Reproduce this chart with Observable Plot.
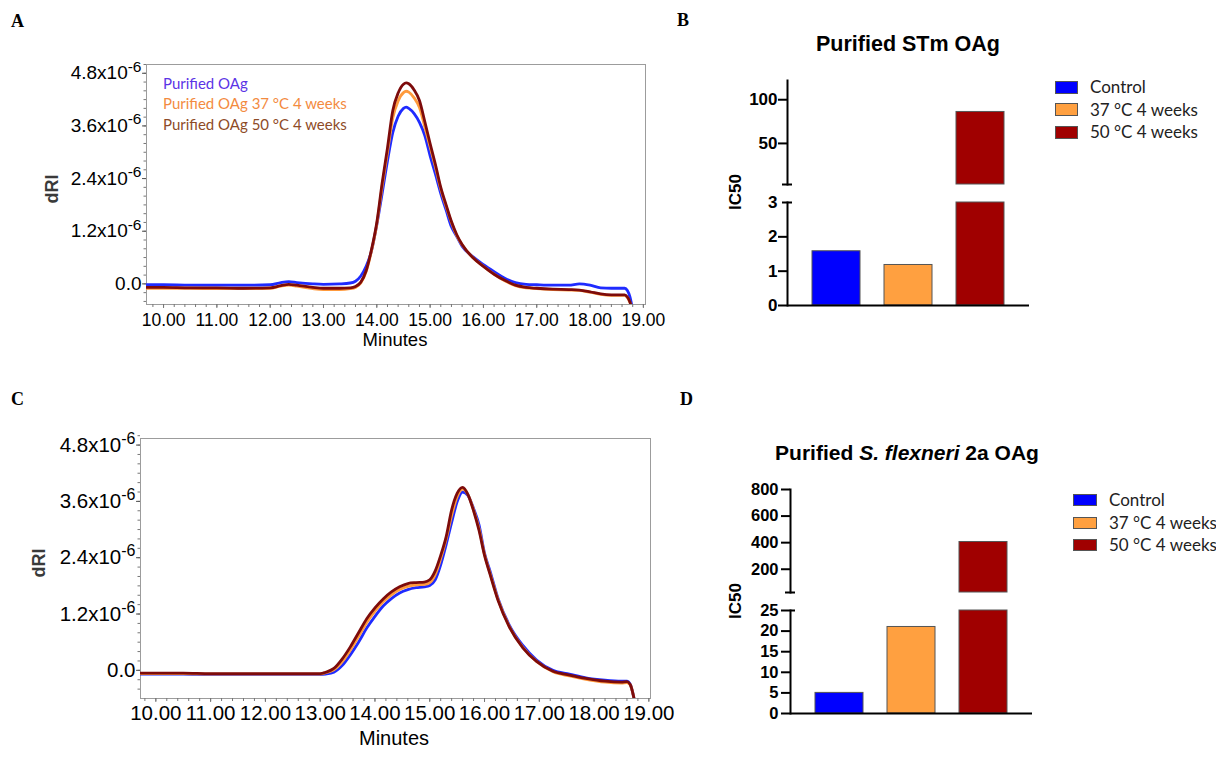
<!DOCTYPE html>
<html><head><meta charset="utf-8">
<script src="https://cdn.jsdelivr.net/npm/d3@7"></script>
<script src="https://cdn.jsdelivr.net/npm/@observablehq/plot@0.6"></script>
<style>
html,body{margin:0;padding:0;background:#fff;}
#root{position:relative;width:1216px;height:758px;overflow:hidden;background:#fff;font-family:"Liberation Sans",Arial,sans-serif;color:#000;}
.abs{position:absolute;white-space:nowrap;}
.plab{font-family:"Liberation Serif","Times New Roman",serif;font-weight:bold;font-size:18px;line-height:18px;}
.sw{position:absolute;box-sizing:border-box;border:1px solid #555;}
svg{overflow:visible;}
</style></head><body><div id="root"></div>
<script>
// ---------- DATA ----------
// Panel A: chromatogram, Purified STm OAg (dRI in units of 1e-6)
const tA = [9.68,10.0,10.5,11.0,11.5,12.0,12.2,12.35,12.5,12.8,13.0,13.3,13.5,13.6,13.7,13.8,13.9,14.0,14.1,14.2,14.3,14.4,14.5,14.55,14.6,14.7,14.8,14.9,15.0,15.1,15.2,15.3,15.4,15.5,15.6,15.8,16.0,16.2,16.4,16.6,16.8,17.0,17.3,17.6,17.8,18.0,18.2,18.4,18.65,18.7,18.75,18.8];
const blueA = [-0.02,-0.02,-0.03,-0.03,-0.03,-0.02,0.03,0.05,0.03,0.0,-0.01,0.0,0.02,0.06,0.18,0.4,0.75,1.35,2.06,2.8,3.45,3.82,4.0,4.03,4.0,3.88,3.68,3.38,2.92,2.5,2.06,1.68,1.3,1.08,0.86,0.62,0.44,0.28,0.13,0.03,-0.01,-0.02,-0.03,-0.03,0.0,-0.03,-0.09,-0.1,-0.1,-0.15,-0.3,-0.6];
const orangeA = [-0.1,-0.1,-0.1,-0.11,-0.11,-0.1,-0.05,-0.03,-0.05,-0.11,-0.13,-0.13,-0.11,-0.08,0.02,0.28,0.75,1.36,2.22,3.0,3.78,4.17,4.36,4.39,4.37,4.24,4.02,3.58,3.12,2.66,2.16,1.77,1.4,1.1,0.89,0.6,0.4,0.22,0.07,-0.04,-0.09,-0.11,-0.13,-0.14,-0.15,-0.19,-0.24,-0.26,-0.26,-0.31,-0.43,-0.65];
const brownA = [-0.08,-0.08,-0.09,-0.09,-0.1,-0.09,-0.04,-0.01,-0.03,-0.08,-0.1,-0.1,-0.09,-0.06,0.04,0.3,0.78,1.4,2.3,3.1,3.95,4.35,4.55,4.58,4.56,4.42,4.18,3.7,3.2,2.72,2.2,1.8,1.42,1.12,0.9,0.6,0.4,0.22,0.08,-0.03,-0.08,-0.1,-0.12,-0.13,-0.14,-0.18,-0.23,-0.25,-0.25,-0.3,-0.42,-0.65];

// Panel C: chromatogram, Purified S. flexneri 2a OAg (dRI in units of 1e-6)
const tC = [9.72,10.5,11.0,11.5,12.0,12.5,13.0,13.1,13.25,13.4,13.55,13.7,13.85,14.0,14.15,14.3,14.45,14.6,14.75,14.9,15.0,15.1,15.2,15.3,15.4,15.5,15.6,15.7,15.8,15.9,16.0,16.1,16.25,16.45,16.7,16.95,17.25,17.55,17.85,18.2,18.5,18.6,18.66,18.72,18.76];
const blueC = [-0.08,-0.08,-0.09,-0.09,-0.09,-0.09,-0.09,-0.08,-0.04,0.1,0.33,0.6,0.9,1.15,1.37,1.53,1.65,1.72,1.76,1.78,1.81,1.93,2.25,2.68,3.15,3.59,3.8,3.72,3.45,3.1,2.5,2.12,1.52,0.97,0.53,0.22,0.0,-0.08,-0.16,-0.21,-0.23,-0.23,-0.3,-0.55,-0.8];
const orangeC = [-0.07,-0.07,-0.08,-0.08,-0.08,-0.08,-0.08,-0.05,0.01,0.18,0.43,0.72,1.02,1.26,1.46,1.61,1.72,1.79,1.82,1.83,1.87,2.04,2.38,2.8,3.3,3.7,3.86,3.74,3.42,3.02,2.47,2.07,1.5,0.94,0.49,0.19,-0.03,-0.12,-0.19,-0.25,-0.27,-0.26,-0.31,-0.55,-0.8];
const brownC = [-0.06,-0.06,-0.07,-0.07,-0.07,-0.07,-0.07,-0.04,0.04,0.24,0.5,0.8,1.1,1.33,1.52,1.67,1.78,1.85,1.87,1.88,1.93,2.12,2.45,2.85,3.42,3.77,3.9,3.74,3.4,2.98,2.45,2.05,1.48,0.93,0.48,0.19,-0.02,-0.1,-0.17,-0.23,-0.25,-0.24,-0.3,-0.55,-0.8];

const chromSeries = ["Purified OAg", "Purified OAg 37 °C 4 weeks", "Purified OAg 50 °C 4 weeks"];
const lineColors = ["#1f2bff", "#ff9a3c", "#7d0b0b"];
const legendTextColors = ["#5b34e6", "#f38b3f", "#8e4b27"];
const minuteTicks = [10,11,12,13,14,15,16,17,18,19];
const dRITicks = [0, 1.2, 2.4, 3.6, 4.8]; // x10^-6

// Panels B and D: IC50 bar charts
const conditions = ["Control", "37 °C 4 weeks", "50 °C 4 weeks"];
const barColors = ["#0000ff", "#ffa040", "#a00000"];
const stmIC50 = [1.58, 1.18, 86];
const sfIC50 = [5.0, 21, 405];
const stmLowerTicks = [0, 1, 2, 3];
const stmUpperTicks = [50, 100];
const sfLowerTicks = [0, 5, 10, 15, 20, 25];
const sfUpperTicks = [200, 400, 600, 800];

// ---------- HELPERS ----------
const root = document.getElementById("root");
function place(node, left, top) {
  node.style.position = "absolute"; node.style.left = left + "px"; node.style.top = top + "px";
  root.appendChild(node); return node;
}
function text(txt, left, top, css) {
  const d = document.createElement("div"); d.className = "abs"; d.innerHTML = txt;
  Object.assign(d.style, css || {}); return place(d, left, top);
}
function supTicks(svg, supSize) {
  svg.querySelectorAll("text").forEach(t => {
    const m = (t.textContent || "").match(/^(.*x10)(-6)$/);
    if (m) {
      t.textContent = m[1];
      const ts = document.createElementNS("http://www.w3.org/2000/svg", "tspan");
      ts.setAttribute("dy", "-0.5em"); ts.setAttribute("font-size", supSize);
      ts.textContent = m[2]; t.appendChild(ts);
    }
  });
}
const fmtDRI = d => d === 0 ? "0.0" : d.toFixed(1) + "x10-6";
const minorX = d3.range(9.8, 19.01, 0.2);
const minorY = d3.range(-0.4, 5.01, 0.2);
const SANS = "'Liberation Sans', Arial, sans-serif";

function chrom(t, series, opt) {
  const svg = Plot.plot({
    width: opt.width, height: opt.height,
    marginLeft: opt.ml, marginRight: opt.mr, marginTop: opt.mt, marginBottom: opt.mb,
    style: {fontFamily: SANS, fontSize: opt.yfs + "px", color: "#000", background: "transparent", overflow: "visible"},
    x: {domain: opt.xd}, y: {domain: opt.yd},
    marks: [
      Plot.frame({stroke: "#9c9c9c"}),
      Plot.axisX({ticks: minorX, tickSize: 3, tickFormat: () => "", label: null, stroke: "#777"}),
      Plot.axisX({ticks: minuteTicks, tickSize: 4, tickPadding: opt.xpad, tickFormat: d => d.toFixed(2), label: null, stroke: "#777", fontSize: opt.xfs}),
      Plot.axisY({ticks: minorY, tickSize: 2.5, tickFormat: () => "", label: null, stroke: "#777"}),
      Plot.axisY({ticks: dRITicks, tickSize: 4, tickPadding: 1, tickFormat: fmtDRI, label: null, stroke: "#555"}),
      ...series.map((vals, k) => Plot.line(t, {x: d => d, y: (d, i) => vals[i], stroke: lineColors[k], strokeWidth: 2.8, curve: "monotone-x", clip: true}))
    ]
  });
  supTicks(svg, opt.supfs + "px");
  return svg;
}

// ---------- PANEL A ----------
place(chrom(tA, [blueA, orangeA, brownA], {width: 680, height: 370, ml: 146, mr: 35, mt: 64, mb: 66, xd: [9.68, 19.04], yd: [-0.47, 5.0], yfs: 19, supfs: 15.5, xfs: 17.5, xpad: 5}), 0, 0);
chromSeries.forEach((s, k) => text(s, 163, 76 + k * 20.3, {fontFamily: "Lato, 'Open Sans', sans-serif", fontSize: "15px", lineHeight: "15px", color: legendTextColors[k]}));
text("dRI", 52, 189, {fontWeight: "bold", fontSize: "18px", color: "#3a3a3a", transform: "translate(-50%,-50%) rotate(-90deg)"});
text("Minutes", 395, 331, {fontSize: "18.5px", lineHeight: "18.5px", transform: "translateX(-50%)"});

// ---------- PANEL C ----------
place(chrom(tC, [blueC, orangeC, brownC], {width: 690, height: 380, ml: 140, mr: 40, mt: 58, mb: 62, xd: [9.72, 19.03], yd: [-0.6, 4.94], yfs: 20.5, supfs: 16, xfs: 20.5, xpad: 3}), 0, 380);
text("dRI", 39, 563, {fontWeight: "bold", fontSize: "18px", color: "#3a3a3a", transform: "translate(-50%,-50%) rotate(-90deg)"});
text("Minutes", 394, 728, {fontSize: "20px", lineHeight: "20px", transform: "translateX(-50%)"});

// ---------- BROKEN-AXIS BAR CHARTS ----------
function brokenBars(values, cfg) {
  const rowsLow = conditions.map((c, i) => ({c, y1: 0, y2: Math.min(values[i], cfg.lowDomain[1]), fill: barColors[i]}));
  const rowsUp = conditions.map((c, i) => ({c, y1: cfg.upDomain[0], y2: values[i], fill: barColors[i]})).filter(r => r.y2 > r.y1);
  const common = {
    width: 360, marginLeft: cfg.ml, marginRight: 360 - cfg.ml - 242,
    style: {fontFamily: SANS, fontSize: cfg.fs + "px", fontWeight: "bold", color: "#000", background: "transparent", overflow: "visible"},
    x: {domain: conditions, paddingInner: 1 / 3, paddingOuter: 0.347, axis: null}
  };
  const fmt = d => String(d);
  const up = Plot.plot({
    ...common, height: cfg.upH, marginTop: cfg.upMt, marginBottom: cfg.upMb,
    y: {domain: cfg.upDomain},
    marks: [
      Plot.barY(rowsUp, {x: "c", y1: "y1", y2: "y2", fill: "fill", stroke: "#555", strokeWidth: 1, inset: 0}),
      Plot.frame({anchor: "left", stroke: "#000", strokeWidth: 2}),
      Plot.axisY({ticks: cfg.upTicks, tickSize: 9, tickPadding: cfg.pad, tickFormat: fmt, strokeWidth: 2, label: null}),
      Plot.axisY({ticks: [cfg.upDomain[0]], tickSize: 5, tickFormat: () => "", strokeWidth: 2, label: null}),
      Plot.axisY({ticks: [cfg.upDomain[0]], tickSize: 5, tickFormat: () => "", strokeWidth: 2, label: null, dx: 5})
    ]
  });
  const low = Plot.plot({
    ...common, height: cfg.lowH, marginTop: cfg.lowMt, marginBottom: cfg.lowMb,
    y: {domain: cfg.lowDomain},
    marks: [
      Plot.barY(rowsLow, {x: "c", y1: "y1", y2: "y2", fill: "fill", stroke: "#555", strokeWidth: 1, inset: 0}),
      Plot.frame({anchor: "left", stroke: "#000", strokeWidth: 2}),
      Plot.ruleY([0], {stroke: "#000", strokeWidth: 2.2}),
      Plot.axisY({ticks: cfg.lowTicks.slice(0, -1), tickSize: 9, tickPadding: cfg.pad, tickFormat: fmt, strokeWidth: 2, label: null}),
      Plot.axisY({ticks: [cfg.lowDomain[1]], tickSize: cfg.topTick, tickPadding: cfg.pad + 9 - cfg.topTick, tickFormat: fmt, strokeWidth: 2, label: null}),
      Plot.axisY({ticks: [cfg.lowDomain[1]], tickSize: 5, tickFormat: () => "", strokeWidth: 2, label: null, dx: 5})
    ]
  });
  place(up, 700, cfg.upTop);
  place(low, 700, cfg.lowTop);
}

// ---------- PANEL B ----------
brokenBars(stmIC50, {ml: 87, fs: 17, pad: 1, lowDomain: [0, 3], upDomain: [3, 122], upTicks: stmUpperTicks, lowTicks: stmLowerTicks,
  upTop: 60, upH: 140, upMt: 20, upMb: 16, lowTop: 190, lowH: 130, lowMt: 12, lowMb: 15, topTick: 5});
text("Purified STm OAg", 908, 34, {fontWeight: "bold", fontSize: "21.5px", lineHeight: "21.5px", transform: "translateX(-50%)"});
text("IC50", 736, 192, {fontWeight: "bold", fontSize: "17px", transform: "translate(-50%,-50%) rotate(-90deg)"});
conditions.forEach((c, k) => {
  const cy = 87 + k * 22.7;
  const sw = document.createElement("div"); sw.className = "sw";
  Object.assign(sw.style, {width: "23px", height: "13px", background: barColors[k]}); place(sw, 1055, cy - 6.5);
  text(c, 1090, cy - 11, {fontFamily: "Lato, 'Open Sans', sans-serif", fontSize: "17px", lineHeight: "22px", color: "#222"});
});

// ---------- PANEL D ----------
text("Purified <i>S. flexneri</i> 2a OAg", 907, 442, {fontWeight: "bold", fontSize: "21px", lineHeight: "21px", transform: "translateX(-50%)"});
brokenBars(sfIC50, {ml: 90, fs: 16.5, pad: 3, lowDomain: [0, 25], upDomain: [25, 800], upTicks: sfUpperTicks, lowTicks: sfLowerTicks,
  upTop: 470, upH: 140, upMt: 19, upMb: 18, lowTop: 595, lowH: 135, lowMt: 15, lowMb: 17, topTick: 9});
text("IC50", 736, 601, {fontWeight: "bold", fontSize: "17px", transform: "translate(-50%,-50%) rotate(-90deg)"});
conditions.forEach((c, k) => {
  const cy = 500 + k * 22.5;
  const sw = document.createElement("div"); sw.className = "sw";
  Object.assign(sw.style, {width: "24px", height: "12px", background: barColors[k]}); place(sw, 1073, cy - 6);
  text(c, 1109, cy - 11, {fontFamily: "Lato, 'Open Sans', sans-serif", fontSize: "17px", lineHeight: "22px", color: "#222"});
});

// ---------- PANEL LETTERS ----------
text("A", 11, 12, {}).className = "abs plab";
text("B", 677, 11, {}).className = "abs plab";
text("C", 11, 390, {}).className = "abs plab";
text("D", 680, 390, {}).className = "abs plab";
</script></body></html>
